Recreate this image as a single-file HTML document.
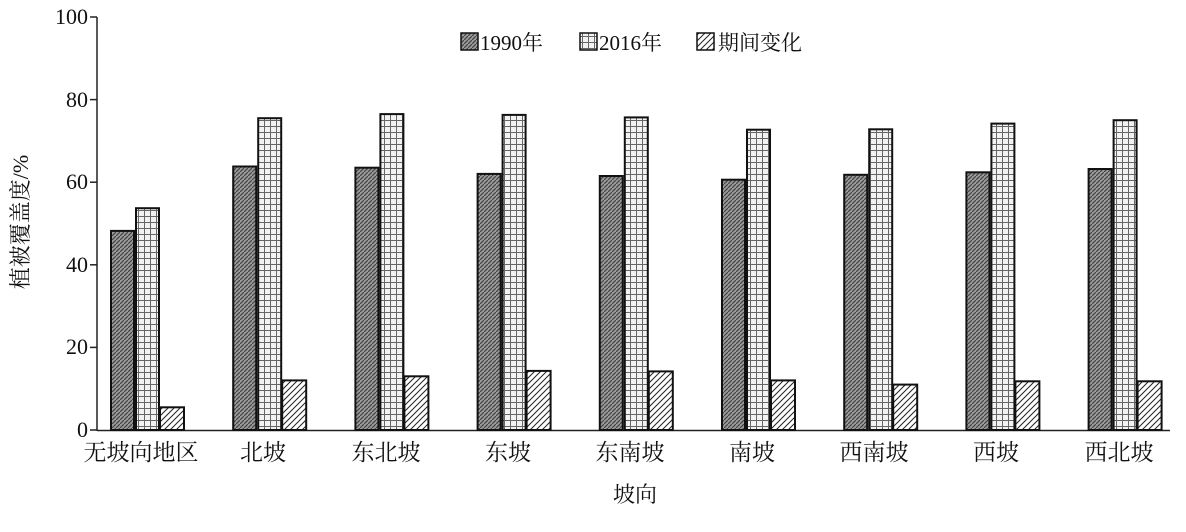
<!DOCTYPE html>
<html><head><meta charset="utf-8"><style>body{margin:0;background:#fff}svg{display:block}</style></head><body>
<svg width="1186" height="532" xmlns="http://www.w3.org/2000/svg" font-family="Liberation Serif, Noto Serif CJK SC, serif">
<defs>
<pattern id="p1" width="4" height="4" patternUnits="userSpaceOnUse"><rect width="4" height="4" fill="#9a9a9a"/><path d="M0,4L4,0" stroke="#444" stroke-width="1.2"/></pattern>
<pattern id="p2" width="6" height="6" patternUnits="userSpaceOnUse"><rect width="6" height="6" fill="#f2f2f2"/><path d="M0,0.5H6M0.5,0V6" stroke="#666" stroke-width="1"/></pattern>
<pattern id="p3" width="6" height="6" patternUnits="userSpaceOnUse"><rect width="6" height="6" fill="#fff"/><path d="M0,6L6,0M-1,1L1,-1M5,7L7,5" stroke="#222" stroke-width="1"/></pattern>
</defs>
<g stroke="#222" stroke-width="1.5">
<line x1="97" y1="17" x2="97" y2="431"/><line x1="97" y1="430.5" x2="1170" y2="430.5"/>
<line x1="90" y1="17" x2="97" y2="17"/><line x1="90" y1="99.6" x2="97" y2="99.6"/><line x1="90" y1="182.2" x2="97" y2="182.2"/><line x1="90" y1="264.8" x2="97" y2="264.8"/><line x1="90" y1="347.4" x2="97" y2="347.4"/><line x1="90" y1="430" x2="97" y2="430"/>
</g>
<g font-size="22" text-anchor="end" fill="#111">
<text x="88" y="24">100</text><text x="88" y="107">80</text><text x="88" y="189">60</text><text x="88" y="272">40</text><text x="88" y="354">20</text><text x="88" y="437">0</text>
</g>
<text transform="translate(28,222) rotate(-90)" font-size="22" text-anchor="middle" fill="#111">植被覆盖度/%</text>
<text x="635" y="502" font-size="22" text-anchor="middle" fill="#111">坡向</text>
<g font-size="23" text-anchor="middle" fill="#111">
<text x="141" y="460">无坡向地区</text><text x="263" y="460">北坡</text><text x="386" y="460">东北坡</text><text x="508" y="460">东坡</text><text x="630" y="460">东南坡</text><text x="752" y="460">南坡</text><text x="874" y="460">西南坡</text><text x="996" y="460">西坡</text><text x="1119" y="460">西北坡</text>
</g>
<g stroke="#111" stroke-width="2">
<rect x="111" y="230.9" width="23" height="199.1" fill="url(#p1)"/><rect x="136" y="208.2" width="23" height="221.8" fill="url(#p2)"/><rect x="160" y="407.3" width="24" height="22.7" fill="url(#p3)"/>
<rect x="233.2" y="166.5" width="23" height="263.5" fill="url(#p1)"/><rect x="258.2" y="118.2" width="23" height="311.8" fill="url(#p2)"/><rect x="282.2" y="380.4" width="24" height="49.6" fill="url(#p3)"/>
<rect x="355.4" y="167.7" width="23" height="262.3" fill="url(#p1)"/><rect x="380.4" y="114.1" width="23" height="315.9" fill="url(#p2)"/><rect x="404.4" y="376.3" width="24" height="53.7" fill="url(#p3)"/>
<rect x="477.6" y="173.9" width="23" height="256.1" fill="url(#p1)"/><rect x="502.6" y="114.9" width="23" height="315.1" fill="url(#p2)"/><rect x="526.6" y="370.9" width="24" height="59.1" fill="url(#p3)"/>
<rect x="599.8" y="176" width="23" height="254" fill="url(#p1)"/><rect x="624.8" y="117.4" width="23" height="312.6" fill="url(#p2)"/><rect x="648.8" y="371.4" width="24" height="58.6" fill="url(#p3)"/>
<rect x="722" y="179.7" width="23" height="250.3" fill="url(#p1)"/><rect x="747" y="129.7" width="23" height="300.3" fill="url(#p2)"/><rect x="771" y="380.4" width="24" height="49.6" fill="url(#p3)"/>
<rect x="844.2" y="174.8" width="23" height="255.2" fill="url(#p1)"/><rect x="869.2" y="129.3" width="23" height="300.7" fill="url(#p2)"/><rect x="893.2" y="384.6" width="24" height="45.4" fill="url(#p3)"/>
<rect x="966.4" y="172.3" width="23" height="257.7" fill="url(#p1)"/><rect x="991.4" y="123.6" width="23" height="306.4" fill="url(#p2)"/><rect x="1015.4" y="381.3" width="24" height="48.7" fill="url(#p3)"/>
<rect x="1088.6" y="169" width="23" height="261" fill="url(#p1)"/><rect x="1113.6" y="120.2" width="23" height="309.8" fill="url(#p2)"/><rect x="1137.6" y="381.3" width="24" height="48.7" fill="url(#p3)"/>
</g>
<g font-size="21" fill="#111">
<rect x="461" y="33" width="17" height="17" fill="url(#p1)" stroke="#111" stroke-width="1.5"/><text x="480" y="50">1990年</text>
<rect x="580" y="33" width="17" height="17" fill="url(#p2)" stroke="#111" stroke-width="1.5"/><text x="599" y="50">2016年</text>
<rect x="697" y="33" width="17" height="17" fill="url(#p3)" stroke="#111" stroke-width="1.5"/><text x="718" y="50">期间变化</text>
</g>
</svg>
</body></html>
